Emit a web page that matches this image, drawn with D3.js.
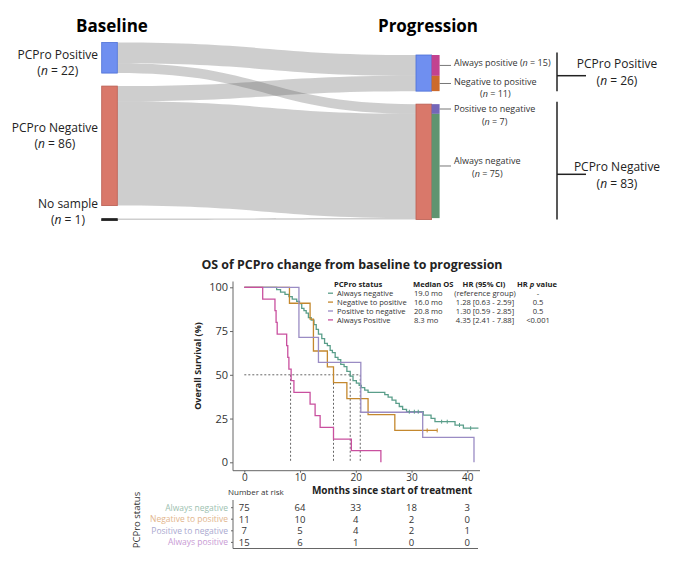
<!DOCTYPE html>
<html>
<head>
<meta charset="utf-8">
<script src="https://cdn.jsdelivr.net/npm/d3@7"></script>
<style>
  body { margin: 0; background: #fff; }
  svg { font-family: "Open Sans", sans-serif; }
</style>
</head>
<body>
<div id="chart"></div>
<script>
// ---- sankey data ----
const baselineGroups = ["PCPro Positive", "PCPro Negative", "No sample"];
const baselineCounts = [22, 86, 1];
const progressionGroups = ["PCPro Positive", "PCPro Negative"];
const progressionCounts = [26, 83];
const changeGroups = ["Always positive", "Negative to positive", "Positive to negative", "Always negative"];
const changeCounts = [15, 11, 7, 75];
// flows baseline -> progression
const flowSource = [0, 0, 1, 1, 2];
const flowTarget = [0, 1, 0, 1, 1];
const flowCounts = [15, 7, 11, 75, 1];

// ---- KM data ----
const kmSeries = ["Always negative", "Negative to positive", "Positive to negative", "Always Positive"];
const negTimes = [0, 5.8, 6.5, 7.3, 8.0, 8.6, 9.4, 9.9, 10.3, 10.7, 11.1, 11.5, 12.0, 12.5, 12.9, 13.3, 13.9, 14.4, 14.9, 15.4, 15.8, 16.3, 16.8, 17.3, 17.9, 18.4, 19.0, 19.5, 20.1, 20.6, 21.0, 21.6, 22.2, 25.2, 25.8, 26.5, 27.2, 27.8, 28.4, 29.1, 32.1, 33.5, 34.2, 37.8, 39.3, 42.0];
const negSurv = [100, 98.7, 97.3, 96, 94.7, 93.3, 92, 90.7, 88, 86.7, 85.3, 82.7, 81.3, 78.7, 76, 73.3, 70.7, 68, 66.7, 64, 62.7, 60, 58.7, 56, 54.7, 52, 49.3, 46.7, 45.3, 44, 42.7, 41.3, 40, 38.7, 37.3, 35.5, 33.7, 31.9, 30.2, 28.9, 27, 25.1, 23.2, 21.3, 19.5, 19.5];
const negCensor = [29.6, 30.5, 31.2, 35.4, 36.4, 38.6, 40.6];
const n2pTimes = [0, 8.1, 11.8, 12.4, 14.9, 16.0, 18.4, 22.2, 27.0, 34.6];
const n2pSurv = [100, 90.9, 81.8, 63.6, 54.5, 45.5, 36.4, 27.3, 18.2, 18.2];
const n2pCensor = [32.8, 34.6];
const p2nTimes = [0, 9.8, 13.3, 20.9, 32.0, 41.2];
const p2nSurv = [100, 71.4, 57.1, 28.6, 14.3, 0];
const posTimes = [0, 3.3, 5.5, 5.7, 5.9, 7.6, 7.8, 8.0, 8.4, 8.9, 11.8, 12.7, 13.6, 16.0, 19.2, 24.5];
const posSurv = [100, 93.3, 86.7, 80, 73.3, 66.7, 60, 53.3, 46.7, 40, 33.3, 26.7, 20, 13.3, 6.7, 0];
const medianOS = [19.0, 16.0, 20.8, 8.3];
const hrText = ["(reference group)", "1.28 [0.63 - 2.59]", "1.30 [0.59 - 2.85]", "4.35 [2.41 - 7.88]"];
const pText = ["-", "0.5", "0.5", "<0.001"];
const xTicks = [0, 10, 20, 30, 40];
const yTicks = [0, 25, 50, 75, 100];

// ---- risk table ----
const riskRows = ["Always negative", "Negative to positive", "Positive to negative", "Always positive"];
const riskTimes = [0, 10, 20, 30, 40];
const riskNeg = [75, 64, 33, 18, 3];
const riskN2P = [11, 10, 4, 2, 0];
const riskP2N = [7, 5, 4, 2, 1];
const riskPos = [15, 6, 1, 0, 0];

const W = 680, H = 570;
const svg = d3.select("#chart").append("svg").attr("width", W).attr("height", H);

// =============== SANKEY ===============
const k = d3.scaleLinear().domain([0, 109]).range([0, 151.5]);
const gap = 13;
const baseX = 101.7, progX = 416, nodeW = 15.6, changeW = 8;
const baseTop = 42.5, progTop = 55;
const baseColors = ["#6f8ff0", "#d9786a", "#222"];
const baseStroke = ["#4c6fd6", "#b95c50", "#222"];
const progColors = ["#6f8ff0", "#d9786a"];
const changeColors = ["#c2428f", "#cc6a2c", "#7466b8", "#5f9470"];

function stackNodes(counts, top) {
  let y = top;
  return counts.map(c => { const n = { y0: y, y1: y + k(c) }; y = n.y1 + gap; return n; });
}
const baseNodes = stackNodes(baselineCounts, baseTop);
const progNodes = stackNodes(progressionCounts, progTop);

function band(x0, y0, x1, y1, h) {
  const xm = (x0 + x1) / 2;
  return `M${x0},${y0}C${xm},${y0} ${xm},${y1} ${x1},${y1}L${x1},${y1 + h}C${xm},${y1 + h} ${xm},${y0 + h} ${x0},${y0 + h}Z`;
}

const srcOff = baseNodes.map(n => n.y0), tgtOff = progNodes.map(n => n.y0);
const links = flowCounts.map((c, i) => {
  const h = k(c);
  const l = { s: srcOff[flowSource[i]], t: tgtOff[flowTarget[i]], h: h };
  srcOff[flowSource[i]] += h; tgtOff[flowTarget[i]] += h;
  return l;
});
svg.append("g").selectAll("path").data(links).join("path")
  .attr("d", d => band(baseX + nodeW, d.s, progX, d.t, Math.max(d.h, 1.2)))
  .attr("fill", "#5e5e5e").attr("fill-opacity", 0.3);

// baseline nodes
svg.append("g").selectAll("rect").data(baseNodes).join("rect")
  .attr("x", baseX).attr("y", d => d.y0)
  .attr("width", nodeW).attr("height", (d, i) => i === 2 ? 2 : d.y1 - d.y0)
  .attr("fill", (d, i) => baseColors[i]).attr("stroke", (d, i) => baseStroke[i]).attr("stroke-width", 0.8);
// progression nodes
svg.append("g").selectAll("rect").data(progNodes).join("rect")
  .attr("x", progX).attr("y", d => d.y0)
  .attr("width", nodeW).attr("height", d => d.y1 - d.y0)
  .attr("fill", (d, i) => progColors[i]).attr("stroke", (d, i) => baseStroke[i]).attr("stroke-width", 0.8);
// change segments: first two sit on positive node, last two on negative node
const changeNodes = [];
{
  let y = progNodes[0].y0;
  changeCounts.forEach((c, i) => {
    if (i === 2) y = progNodes[1].y0;
    changeNodes.push({ y0: y, y1: y + k(c) });
    y += k(c);
  });
}
svg.append("g").selectAll("rect").data(changeNodes).join("rect")
  .attr("x", progX + nodeW).attr("y", d => d.y0)
  .attr("width", changeW).attr("height", d => d.y1 - d.y0)
  .attr("fill", (d, i) => changeColors[i]);

// titles
svg.append("text").attr("x", 112).attr("y", 32).attr("text-anchor", "middle")
  .attr("font-size", 17).attr("font-weight", 700).text("Baseline");
svg.append("text").attr("x", 428).attr("y", 32).attr("text-anchor", "middle")
  .attr("font-size", 17).attr("font-weight", 700).text("Progression");

function nLabel(sel, n) {
  sel.append("tspan").text("(");
  sel.append("tspan").attr("font-style", "italic").text("n");
  sel.append("tspan").text(" = " + n + ")");
}

// baseline labels: first line right-aligned, n centred below it
const baseLabelY = [55, 128, 204];
baselineGroups.forEach((g, i) => {
  const t1 = svg.append("text").attr("x", 98).attr("y", baseLabelY[i]).attr("dy", "0.35em")
    .attr("text-anchor", "end").attr("font-size", 12).attr("fill", "#222").text(g);
  const w = t1.node().getComputedTextLength();
  const t2 = svg.append("text").attr("x", 98 - w / 2).attr("y", baseLabelY[i] + 16).attr("dy", "0.35em")
    .attr("text-anchor", "middle").attr("font-size", 12).attr("fill", "#222");
  nLabel(t2, baselineCounts[i]);
});

// change labels
const changeDy = [-2.4, -1.8, 0.3, -5];
changeNodes.forEach((d, i) => {
  const my = (d.y0 + d.y1) / 2;
  svg.append("line").attr("x1", progX + nodeW + changeW).attr("x2", 451)
    .attr("y1", my).attr("y2", my).attr("stroke", "#777").attr("stroke-width", 1);
  const t1 = svg.append("text").attr("x", 454).attr("y", my + changeDy[i]).attr("dy", "0.35em")
    .attr("font-size", 9).attr("fill", "#333").text(changeGroups[i]);
  if (i === 0) {
    t1.append("tspan").text(" ");
    nLabel(t1, changeCounts[i]);
  } else {
    const w = t1.node().getComputedTextLength();
    const t2 = svg.append("text").attr("x", 454 + w / 2).attr("y", my + changeDy[i] + 12.6).attr("dy", "0.35em")
      .attr("text-anchor", "middle").attr("font-size", 9).attr("fill", "#333");
    nLabel(t2, changeCounts[i]);
  }
});

// brackets for progression groups
const bracketTickY = [75.7, 174.3];
const bracketLabelY = [64, 167];
progNodes.forEach((d, i) => {
  svg.append("line").attr("x1", 557).attr("x2", 557).attr("y1", d.y0 - 2.5).attr("y2", d.y1)
    .attr("stroke", "#222").attr("stroke-width", 1.5);
  svg.append("line").attr("x1", 557).attr("x2", 586).attr("y1", bracketTickY[i]).attr("y2", bracketTickY[i])
    .attr("stroke", "#222").attr("stroke-width", 1.5);
  svg.append("text").attr("x", 617).attr("y", bracketLabelY[i]).attr("dy", "0.35em")
    .attr("text-anchor", "middle").attr("font-size", 12).attr("fill", "#222").text(progressionGroups[i]);
  const t2 = svg.append("text").attr("x", 617).attr("y", bracketLabelY[i] + 16.5).attr("dy", "0.35em")
    .attr("text-anchor", "middle").attr("font-size", 12).attr("fill", "#222");
  nLabel(t2, progressionCounts[i]);
});

// =============== KAPLAN-MEIER ===============
const x = d3.scaleLinear().domain([0, 40]).range([244.3, 467.3]);
const y = d3.scaleLinear().domain([0, 100]).range([462.3, 287.3]);
const axisX0 = 233, axisY0 = 470.7;
const kmColors = ["#5a9e8a", "#c4882e", "#9a8cc4", "#c9509f"];
const riskColors = ["#9dbfb0", "#e2b58c", "#a9a8cf", "#c89ad4"];

svg.append("text").attr("x", 352).attr("y", 269).attr("text-anchor", "middle")
  .attr("font-size", 12.4).attr("font-weight", 700).attr("fill", "#222")
  .text("OS of PCPro change from baseline to progression");

// axes
const yAxis = svg.append("g").attr("transform", `translate(${axisX0},0)`)
  .call(d3.axisLeft(y).tickValues(yTicks).tickSize(3).tickPadding(2));
const xAxis = svg.append("g").attr("transform", `translate(0,${axisY0})`)
  .call(d3.axisBottom(x).tickValues(xTicks).tickSize(2).tickPadding(1));
[yAxis, xAxis].forEach(a => {
  a.select(".domain").remove();
  a.selectAll("line").attr("stroke", "#666");
  a.selectAll("text").attr("font-family", "Open Sans").attr("fill", "#333");
});
yAxis.selectAll("text").attr("font-size", 11);
xAxis.selectAll("text").attr("font-size", 10);
svg.append("line").attr("x1", axisX0).attr("x2", axisX0).attr("y1", 281.5).attr("y2", axisY0)
  .attr("stroke", "#666").attr("stroke-width", 1);
svg.append("line").attr("x1", axisX0).attr("x2", 480).attr("y1", axisY0).attr("y2", axisY0)
  .attr("stroke", "#666").attr("stroke-width", 1);

svg.append("text").attr("transform", "translate(201,366) rotate(-90)").attr("text-anchor", "middle")
  .attr("font-size", 9).attr("font-weight", 700).attr("fill", "#222").text("Overall Survival (%)");
svg.append("text").attr("x", 392).attr("y", 493.5).attr("text-anchor", "middle")
  .attr("font-size", 10).attr("font-weight", 700).attr("fill", "#222").text("Months since start of treatment");

// median reference lines
const dotted = svg.append("g").attr("stroke", "#555").attr("stroke-width", 0.9).attr("stroke-dasharray", "2,2");
dotted.append("line").attr("x1", x(0)).attr("x2", x(d3.max(medianOS))).attr("y1", y(50)).attr("y2", y(50));
medianOS.forEach(m => {
  dotted.append("line").attr("x1", x(m)).attr("x2", x(m)).attr("y1", y(50)).attr("y2", y(0));
});

// curves
const kmData = [[negTimes, negSurv], [n2pTimes, n2pSurv], [p2nTimes, p2nSurv], [posTimes, posSurv]];
const line = d3.line().x(d => x(d[0])).y(d => y(d[1])).curve(d3.curveStepAfter);
kmData.forEach(([t, s], i) => {
  svg.append("path").datum(t.map((v, j) => [v, s[j]]))
    .attr("d", line).attr("fill", "none").attr("stroke", kmColors[i]).attr("stroke-width", 1.3);
});
function survAt(t, s, time) {
  let v = s[0];
  t.forEach((tt, j) => { if (tt <= time) v = s[j]; });
  return v;
}
const censors = [[0, negCensor], [1, n2pCensor]];
censors.forEach(([i, cs]) => {
  const [t, s] = kmData[i];
  svg.append("g").selectAll("line").data(cs).join("line")
    .attr("x1", d => x(d)).attr("x2", d => x(d))
    .attr("y1", d => y(survAt(t, s, d)) - 2).attr("y2", d => y(survAt(t, s, d)) + 2)
    .attr("stroke", kmColors[i]).attr("stroke-width", 1);
});

// legend (tightly packed, as in the figure)
const lg = svg.append("g").attr("font-size", 7.6).attr("fill", "#333");
const rowY = i => 293.2 + 8.9 * i;
const headY = 284;
lg.append("text").attr("x", 334).attr("y", headY).attr("dy", "0.35em").attr("font-weight", 700).attr("fill", "#222").text("PCPro status");
lg.append("text").attr("x", 413).attr("y", headY).attr("dy", "0.35em").attr("font-weight", 700).attr("fill", "#222").text("Median OS");
lg.append("text").attr("x", 484).attr("y", headY).attr("dy", "0.35em").attr("text-anchor", "middle").attr("font-weight", 700).attr("fill", "#222").text("HR (95% CI)");
const ph = lg.append("text").attr("x", 537).attr("y", headY).attr("dy", "0.35em").attr("text-anchor", "middle").attr("font-weight", 700).attr("fill", "#222");
ph.append("tspan").text("HR ");
ph.append("tspan").attr("font-style", "italic").text("p");
ph.append("tspan").text(" value");
kmSeries.forEach((s, i) => {
  lg.append("line").attr("x1", 328).attr("x2", 333).attr("y1", rowY(i)).attr("y2", rowY(i))
    .attr("stroke", kmColors[i]).attr("stroke-width", 1.3);
  lg.append("text").attr("x", 337).attr("y", rowY(i)).attr("dy", "0.35em").text(s);
  lg.append("text").attr("x", 414).attr("y", rowY(i)).attr("dy", "0.35em").text(medianOS[i].toFixed(1) + " mo");
  lg.append("text").attr("x", 485).attr("y", rowY(i)).attr("dy", "0.35em").attr("text-anchor", "middle").text(hrText[i]);
  lg.append("text").attr("x", 538).attr("y", rowY(i)).attr("dy", "0.35em").attr("text-anchor", "middle").text(pText[i]);
});

// =============== RISK TABLE ===============
const riskData = [riskNeg, riskN2P, riskP2N, riskPos];
const riskY = [507.7, 519.2, 530.8, 542.4];
svg.append("text").attr("x", 228).attr("y", 492.5).attr("dy", "0.35em")
  .attr("font-size", 8).attr("fill", "#333").text("Number at risk");
svg.append("line").attr("x1", axisX0).attr("x2", axisX0).attr("y1", 500).attr("y2", 548.5)
  .attr("stroke", "#666").attr("stroke-width", 1);
svg.append("line").attr("x1", axisX0).attr("x2", 478).attr("y1", 548.5).attr("y2", 548.5)
  .attr("stroke", "#666").attr("stroke-width", 1);
riskRows.forEach((r, i) => {
  svg.append("line").attr("x1", axisX0 - 2).attr("x2", axisX0).attr("y1", riskY[i]).attr("y2", riskY[i])
    .attr("stroke", "#666");
  svg.append("text").attr("x", 228).attr("y", riskY[i]).attr("dy", "0.35em").attr("text-anchor", "end")
    .attr("font-size", 8.5).attr("fill", riskColors[i]).text(r);
  svg.append("g").selectAll("text").data(riskData[i]).join("text")
    .attr("x", (d, j) => x(riskTimes[j])).attr("y", riskY[i]).attr("dy", "0.35em")
    .attr("text-anchor", "middle").attr("font-size", 9.5).attr("fill", "#333").text(d => d);
});
svg.append("text").attr("transform", "translate(140,520) rotate(-90)").attr("text-anchor", "middle")
  .attr("font-size", 9.5).attr("fill", "#333").text("PCPro status");
</script>
</body>
</html>
